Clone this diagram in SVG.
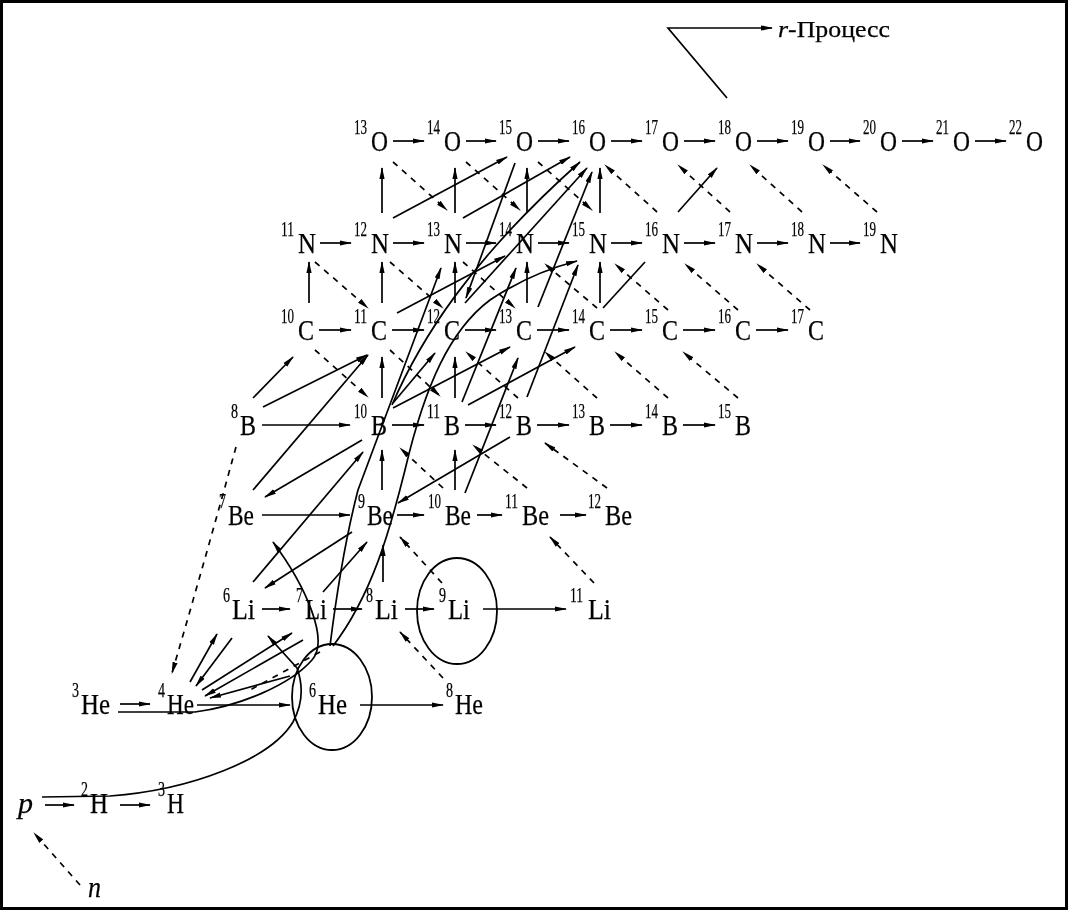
<svg xmlns="http://www.w3.org/2000/svg" width="1069" height="911" viewBox="0 0 1069 911">
<defs>
<marker id="ah" markerWidth="12" markerHeight="6" refX="11" refY="3" orient="auto" markerUnits="userSpaceOnUse"><path d="M0,0.4 L12,3 L0,5.6 z" fill="#000"/></marker>
<style>
text{font-family:"Liberation Serif","Times New Roman",serif;fill:#000;stroke:#000;stroke-width:0.25}
.m{font-size:29px}
.s{font-size:20px}
.i{font-style:italic}
.c line,.c path,.c polyline{stroke:#000;stroke-width:1.7;fill:none}
.c .a{marker-end:url(#ah)}
.c .d{stroke-dasharray:6 6}
.ell{fill:none;stroke:#000;stroke-width:1.8}
</style>
</defs>
<rect x="0" y="0" width="1069" height="911" fill="#fff"/>
<rect x="1.5" y="1.5" width="1065" height="907" fill="none" stroke="#000" stroke-width="3"/>

<g id="ellipses">
<ellipse class="ell" cx="332" cy="697" rx="40" ry="53"/>
<ellipse class="ell" cx="457" cy="611" rx="40" ry="53"/>
</g>

<g id="connectors" class="c">
<polyline class="a" points="727,98 668,28 772,28"/>
<line class="a" x1="393" y1="141" x2="424" y2="141"/>
<line class="a" x1="466" y1="141" x2="496" y2="141"/>
<line class="a" x1="538" y1="141" x2="569" y2="141"/>
<line class="a" x1="611" y1="141" x2="642" y2="141"/>
<line class="a" x1="684" y1="141" x2="715" y2="141"/>
<line class="a" x1="757" y1="141" x2="788" y2="141"/>
<line class="a" x1="830" y1="141" x2="860" y2="141"/>
<line class="a" x1="902" y1="141" x2="933" y2="141"/>
<line class="a" x1="975" y1="141" x2="1006" y2="141"/>
<line class="a" x1="320" y1="243" x2="351" y2="243"/>
<line class="a" x1="393" y1="243" x2="424" y2="243"/>
<line class="a" x1="466" y1="243" x2="496" y2="243"/>
<line class="a" x1="538" y1="243" x2="569" y2="243"/>
<line class="a" x1="611" y1="243" x2="642" y2="243"/>
<line class="a" x1="684" y1="243" x2="715" y2="243"/>
<line class="a" x1="757" y1="243" x2="788" y2="243"/>
<line class="a" x1="830" y1="243" x2="860" y2="243"/>
<line class="a" x1="319" y1="330" x2="351" y2="330"/>
<line class="a" x1="392" y1="330" x2="424" y2="330"/>
<line class="a" x1="465" y1="330" x2="496" y2="330"/>
<line class="a" x1="537" y1="330" x2="569" y2="330"/>
<line class="a" x1="610" y1="330" x2="642" y2="330"/>
<line class="a" x1="683" y1="330" x2="715" y2="330"/>
<line class="a" x1="756" y1="330" x2="788" y2="330"/>
<line class="a" x1="262" y1="425" x2="350" y2="425"/>
<line class="a" x1="392" y1="425" x2="424" y2="425"/>
<line class="a" x1="465" y1="425" x2="496" y2="425"/>
<line class="a" x1="537" y1="425" x2="569" y2="425"/>
<line class="a" x1="610" y1="425" x2="642" y2="425"/>
<line class="a" x1="683" y1="425" x2="715" y2="425"/>
<line class="a" x1="262" y1="515" x2="350" y2="515"/>
<line class="a" x1="397" y1="515" x2="424" y2="515"/>
<line class="a" x1="477" y1="515" x2="502" y2="515"/>
<line class="a" x1="560" y1="515" x2="586" y2="515"/>
<line class="a" x1="262" y1="609" x2="290" y2="609"/>
<line class="a" x1="333" y1="609" x2="362" y2="609"/>
<line class="a" x1="405" y1="609" x2="434" y2="609"/>
<line class="a" x1="483" y1="609" x2="566" y2="609"/>
<line class="a" x1="120" y1="704" x2="150" y2="704"/>
<line class="a" x1="197" y1="705" x2="290" y2="705"/>
<line class="a" x1="360" y1="705" x2="443" y2="705"/>
<line class="a" x1="45" y1="805" x2="74" y2="805"/>
<line class="a" x1="120" y1="805" x2="150" y2="805"/>
<line class="a" x1="382" y1="213" x2="382" y2="168"/>
<line class="a" x1="455" y1="213" x2="455" y2="168"/>
<line class="a" x1="527" y1="213" x2="527" y2="168"/>
<line class="a" x1="600" y1="213" x2="600" y2="168"/>
<line class="a" x1="309" y1="303" x2="309" y2="262"/>
<line class="a" x1="382" y1="303" x2="382" y2="262"/>
<line class="a" x1="455" y1="303" x2="455" y2="262"/>
<line class="a" x1="527" y1="303" x2="527" y2="262"/>
<line class="a" x1="600" y1="303" x2="600" y2="262"/>
<line class="a" x1="382" y1="398" x2="382" y2="357"/>
<line class="a" x1="455" y1="398" x2="455" y2="357"/>
<line class="a" x1="382" y1="490" x2="382" y2="450"/>
<line class="a" x1="455" y1="490" x2="455" y2="450"/>
<line class="a" x1="383" y1="582" x2="383" y2="545"/>
<line class="a d" x1="393" y1="162" x2="447" y2="210"/>
<line class="a d" x1="466" y1="162" x2="520" y2="210"/>
<line class="a d" x1="538" y1="162" x2="592" y2="210"/>
<line class="a d" x1="657" y1="212" x2="605" y2="165"/>
<line class="a d" x1="730" y1="212" x2="678" y2="165"/>
<line class="a d" x1="802" y1="212" x2="750" y2="165"/>
<line class="a d" x1="877" y1="212" x2="823" y2="165"/>
<line class="a d" x1="315" y1="262" x2="368" y2="308"/>
<line class="a d" x1="390" y1="262" x2="443" y2="308"/>
<line class="a d" x1="463" y1="262" x2="515" y2="308"/>
<line class="a d" x1="597" y1="308" x2="545" y2="264"/>
<line class="a d" x1="668" y1="310" x2="615" y2="264"/>
<line class="a d" x1="738" y1="310" x2="685" y2="264"/>
<line class="a d" x1="810" y1="310" x2="757" y2="264"/>
<line class="a d" x1="315" y1="350" x2="368" y2="397"/>
<line class="a d" x1="390" y1="350" x2="440" y2="396"/>
<line class="a d" x1="518" y1="398" x2="466" y2="352"/>
<line class="a d" x1="597" y1="398" x2="545" y2="352"/>
<line class="a d" x1="668" y1="398" x2="615" y2="352"/>
<line class="a d" x1="738" y1="398" x2="683" y2="352"/>
<line class="a d" x1="443" y1="488" x2="400" y2="448"/>
<line class="a d" x1="527" y1="488" x2="473" y2="445"/>
<line class="a d" x1="607" y1="488" x2="545" y2="443"/>
<line class="a d" x1="442" y1="583" x2="400" y2="537"/>
<line class="a d" x1="594" y1="583" x2="550" y2="537"/>
<line class="a d" x1="443" y1="678" x2="400" y2="632"/>
<line class="a d" x1="80" y1="885" x2="34" y2="833"/>
<path class="a d" d="M236,447 Q205,560 172,673"/>
<line class="d" x1="320" y1="652" x2="250" y2="690"/>
<line class="a" x1="393" y1="218" x2="507" y2="157"/>
<line class="a" x1="463" y1="218" x2="570" y2="157"/>
<path class="a" d="M392,405 C420,340 470,260 580,162"/>
<line class="a" x1="465" y1="303" x2="587" y2="168"/>
<line class="a" x1="538" y1="307" x2="592" y2="172"/>
<line class="a" x1="515" y1="163" x2="466" y2="298"/>
<line class="a" x1="397" y1="313" x2="505" y2="256"/>
<line class="a" x1="462" y1="402" x2="516" y2="268"/>
<line class="a" x1="527" y1="397" x2="578" y2="265"/>
<line class="a" x1="393" y1="408" x2="510" y2="347"/>
<line class="a" x1="468" y1="405" x2="575" y2="347"/>
<line class="a" x1="393" y1="403" x2="435" y2="353"/>
<line class="a" x1="253" y1="398" x2="293" y2="357"/>
<line class="a" x1="263" y1="407" x2="367" y2="355"/>
<line class="a" x1="253" y1="490" x2="368" y2="355"/>
<line class="a" x1="362" y1="440" x2="265" y2="497"/>
<line class="a" x1="253" y1="582" x2="363" y2="452"/>
<line class="a" x1="510" y1="437" x2="398" y2="503"/>
<line class="a" x1="465" y1="493" x2="518" y2="358"/>
<line class="a" x1="323" y1="592" x2="367" y2="542"/>
<line class="a" x1="352" y1="532" x2="265" y2="588"/>
<line x1="603" y1="308" x2="645" y2="262"/>
<line class="a" x1="678" y1="212" x2="717" y2="168"/>
<path class="a" d="M330,646 C337,590 345,540 358,490 L441,268"/>
<path class="a" d="M333,646 C372,595 390,530 405,470 C425,385 450,330 490,300 C520,280 550,268 577,261"/>
<path class="a" d="M42,797 L110,796 C190,790 270,760 293,722 C305,700 302,682 297,668 L268,636"/>
<path class="a" d="M118,712 L195,712 C240,706 290,685 312,660 C330,640 305,585 273,542"/>
<line class="a" x1="190" y1="682" x2="217" y2="634"/>
<line class="a" x1="232" y1="638" x2="196" y2="686"/>
<line class="a" x1="202" y1="690" x2="292" y2="633"/>
<line class="a" x1="303" y1="640" x2="205" y2="696"/>
<line class="a" x1="290" y1="676" x2="210" y2="698"/>
</g>

<g id="nodes" opacity="0.999">
<g id="r-process"><text x="778" y="37" font-size="23" textLength="112" lengthAdjust="spacingAndGlyphs"><tspan class="i">r</tspan>-Процесс</text></g>
<g id="O13" transform="translate(371,151)"><text><tspan class="s" x="-17" y="-17" textLength="13" lengthAdjust="spacingAndGlyphs">13</tspan><tspan class="m" x="0" y="0" textLength="17" lengthAdjust="spacingAndGlyphs">O</tspan></text></g>
<g id="O14" transform="translate(444,151)"><text><tspan class="s" x="-17" y="-17" textLength="13" lengthAdjust="spacingAndGlyphs">14</tspan><tspan class="m" x="0" y="0" textLength="17" lengthAdjust="spacingAndGlyphs">O</tspan></text></g>
<g id="O15" transform="translate(516,151)"><text><tspan class="s" x="-17" y="-17" textLength="13" lengthAdjust="spacingAndGlyphs">15</tspan><tspan class="m" x="0" y="0" textLength="17" lengthAdjust="spacingAndGlyphs">O</tspan></text></g>
<g id="O16" transform="translate(589,151)"><text><tspan class="s" x="-17" y="-17" textLength="13" lengthAdjust="spacingAndGlyphs">16</tspan><tspan class="m" x="0" y="0" textLength="17" lengthAdjust="spacingAndGlyphs">O</tspan></text></g>
<g id="O17" transform="translate(662,151)"><text><tspan class="s" x="-17" y="-17" textLength="13" lengthAdjust="spacingAndGlyphs">17</tspan><tspan class="m" x="0" y="0" textLength="17" lengthAdjust="spacingAndGlyphs">O</tspan></text></g>
<g id="O18" transform="translate(735,151)"><text><tspan class="s" x="-17" y="-17" textLength="13" lengthAdjust="spacingAndGlyphs">18</tspan><tspan class="m" x="0" y="0" textLength="17" lengthAdjust="spacingAndGlyphs">O</tspan></text></g>
<g id="O19" transform="translate(808,151)"><text><tspan class="s" x="-17" y="-17" textLength="13" lengthAdjust="spacingAndGlyphs">19</tspan><tspan class="m" x="0" y="0" textLength="17" lengthAdjust="spacingAndGlyphs">O</tspan></text></g>
<g id="O20" transform="translate(880,151)"><text><tspan class="s" x="-17" y="-17" textLength="13" lengthAdjust="spacingAndGlyphs">20</tspan><tspan class="m" x="0" y="0" textLength="17" lengthAdjust="spacingAndGlyphs">O</tspan></text></g>
<g id="O21" transform="translate(953,151)"><text><tspan class="s" x="-17" y="-17" textLength="13" lengthAdjust="spacingAndGlyphs">21</tspan><tspan class="m" x="0" y="0" textLength="17" lengthAdjust="spacingAndGlyphs">O</tspan></text></g>
<g id="O22" transform="translate(1026,151)"><text><tspan class="s" x="-17" y="-17" textLength="13" lengthAdjust="spacingAndGlyphs">22</tspan><tspan class="m" x="0" y="0" textLength="17" lengthAdjust="spacingAndGlyphs">O</tspan></text></g>
<g id="N11" transform="translate(298,253)"><text><tspan class="s" x="-17" y="-17" textLength="13" lengthAdjust="spacingAndGlyphs">11</tspan><tspan class="m" x="0" y="0" textLength="18" lengthAdjust="spacingAndGlyphs">N</tspan></text></g>
<g id="N12" transform="translate(371,253)"><text><tspan class="s" x="-17" y="-17" textLength="13" lengthAdjust="spacingAndGlyphs">12</tspan><tspan class="m" x="0" y="0" textLength="18" lengthAdjust="spacingAndGlyphs">N</tspan></text></g>
<g id="N13" transform="translate(444,253)"><text><tspan class="s" x="-17" y="-17" textLength="13" lengthAdjust="spacingAndGlyphs">13</tspan><tspan class="m" x="0" y="0" textLength="18" lengthAdjust="spacingAndGlyphs">N</tspan></text></g>
<g id="N14" transform="translate(516,253)"><text><tspan class="s" x="-17" y="-17" textLength="13" lengthAdjust="spacingAndGlyphs">14</tspan><tspan class="m" x="0" y="0" textLength="18" lengthAdjust="spacingAndGlyphs">N</tspan></text></g>
<g id="N15" transform="translate(589,253)"><text><tspan class="s" x="-17" y="-17" textLength="13" lengthAdjust="spacingAndGlyphs">15</tspan><tspan class="m" x="0" y="0" textLength="18" lengthAdjust="spacingAndGlyphs">N</tspan></text></g>
<g id="N16" transform="translate(662,253)"><text><tspan class="s" x="-17" y="-17" textLength="13" lengthAdjust="spacingAndGlyphs">16</tspan><tspan class="m" x="0" y="0" textLength="18" lengthAdjust="spacingAndGlyphs">N</tspan></text></g>
<g id="N17" transform="translate(735,253)"><text><tspan class="s" x="-17" y="-17" textLength="13" lengthAdjust="spacingAndGlyphs">17</tspan><tspan class="m" x="0" y="0" textLength="18" lengthAdjust="spacingAndGlyphs">N</tspan></text></g>
<g id="N18" transform="translate(808,253)"><text><tspan class="s" x="-17" y="-17" textLength="13" lengthAdjust="spacingAndGlyphs">18</tspan><tspan class="m" x="0" y="0" textLength="18" lengthAdjust="spacingAndGlyphs">N</tspan></text></g>
<g id="N19" transform="translate(880,253)"><text><tspan class="s" x="-17" y="-17" textLength="13" lengthAdjust="spacingAndGlyphs">19</tspan><tspan class="m" x="0" y="0" textLength="18" lengthAdjust="spacingAndGlyphs">N</tspan></text></g>
<g id="C10" transform="translate(298,340)"><text><tspan class="s" x="-17" y="-17" textLength="13" lengthAdjust="spacingAndGlyphs">10</tspan><tspan class="m" x="0" y="0" textLength="16" lengthAdjust="spacingAndGlyphs">C</tspan></text></g>
<g id="C11" transform="translate(371,340)"><text><tspan class="s" x="-17" y="-17" textLength="13" lengthAdjust="spacingAndGlyphs">11</tspan><tspan class="m" x="0" y="0" textLength="16" lengthAdjust="spacingAndGlyphs">C</tspan></text></g>
<g id="C12" transform="translate(444,340)"><text><tspan class="s" x="-17" y="-17" textLength="13" lengthAdjust="spacingAndGlyphs">12</tspan><tspan class="m" x="0" y="0" textLength="16" lengthAdjust="spacingAndGlyphs">C</tspan></text></g>
<g id="C13" transform="translate(516,340)"><text><tspan class="s" x="-17" y="-17" textLength="13" lengthAdjust="spacingAndGlyphs">13</tspan><tspan class="m" x="0" y="0" textLength="16" lengthAdjust="spacingAndGlyphs">C</tspan></text></g>
<g id="C14" transform="translate(589,340)"><text><tspan class="s" x="-17" y="-17" textLength="13" lengthAdjust="spacingAndGlyphs">14</tspan><tspan class="m" x="0" y="0" textLength="16" lengthAdjust="spacingAndGlyphs">C</tspan></text></g>
<g id="C15" transform="translate(662,340)"><text><tspan class="s" x="-17" y="-17" textLength="13" lengthAdjust="spacingAndGlyphs">15</tspan><tspan class="m" x="0" y="0" textLength="16" lengthAdjust="spacingAndGlyphs">C</tspan></text></g>
<g id="C16" transform="translate(735,340)"><text><tspan class="s" x="-17" y="-17" textLength="13" lengthAdjust="spacingAndGlyphs">16</tspan><tspan class="m" x="0" y="0" textLength="16" lengthAdjust="spacingAndGlyphs">C</tspan></text></g>
<g id="C17" transform="translate(808,340)"><text><tspan class="s" x="-17" y="-17" textLength="13" lengthAdjust="spacingAndGlyphs">17</tspan><tspan class="m" x="0" y="0" textLength="16" lengthAdjust="spacingAndGlyphs">C</tspan></text></g>
<g id="B8" transform="translate(240,435)"><text><tspan class="s" x="-9" y="-17" textLength="7" lengthAdjust="spacingAndGlyphs">8</tspan><tspan class="m" x="0" y="0" textLength="16" lengthAdjust="spacingAndGlyphs">B</tspan></text></g>
<g id="B10" transform="translate(371,435)"><text><tspan class="s" x="-17" y="-17" textLength="13" lengthAdjust="spacingAndGlyphs">10</tspan><tspan class="m" x="0" y="0" textLength="16" lengthAdjust="spacingAndGlyphs">B</tspan></text></g>
<g id="B11" transform="translate(444,435)"><text><tspan class="s" x="-17" y="-17" textLength="13" lengthAdjust="spacingAndGlyphs">11</tspan><tspan class="m" x="0" y="0" textLength="16" lengthAdjust="spacingAndGlyphs">B</tspan></text></g>
<g id="B12" transform="translate(516,435)"><text><tspan class="s" x="-17" y="-17" textLength="13" lengthAdjust="spacingAndGlyphs">12</tspan><tspan class="m" x="0" y="0" textLength="16" lengthAdjust="spacingAndGlyphs">B</tspan></text></g>
<g id="B13" transform="translate(589,435)"><text><tspan class="s" x="-17" y="-17" textLength="13" lengthAdjust="spacingAndGlyphs">13</tspan><tspan class="m" x="0" y="0" textLength="16" lengthAdjust="spacingAndGlyphs">B</tspan></text></g>
<g id="B14" transform="translate(662,435)"><text><tspan class="s" x="-17" y="-17" textLength="13" lengthAdjust="spacingAndGlyphs">14</tspan><tspan class="m" x="0" y="0" textLength="16" lengthAdjust="spacingAndGlyphs">B</tspan></text></g>
<g id="B15" transform="translate(735,435)"><text><tspan class="s" x="-17" y="-17" textLength="13" lengthAdjust="spacingAndGlyphs">15</tspan><tspan class="m" x="0" y="0" textLength="16" lengthAdjust="spacingAndGlyphs">B</tspan></text></g>
<g id="Be7" transform="translate(228,525)"><text><tspan class="s" x="-9" y="-17" textLength="7" lengthAdjust="spacingAndGlyphs">7</tspan><tspan class="m" x="0" y="0" textLength="26" lengthAdjust="spacingAndGlyphs">Be</tspan></text></g>
<g id="Be9" transform="translate(367,525)"><text><tspan class="s" x="-9" y="-17" textLength="7" lengthAdjust="spacingAndGlyphs">9</tspan><tspan class="m" x="0" y="0" textLength="26" lengthAdjust="spacingAndGlyphs">Be</tspan></text></g>
<g id="Be10" transform="translate(445,525)"><text><tspan class="s" x="-17" y="-17" textLength="13" lengthAdjust="spacingAndGlyphs">10</tspan><tspan class="m" x="0" y="0" textLength="26" lengthAdjust="spacingAndGlyphs">Be</tspan></text></g>
<g id="Be11" transform="translate(522,525)"><text><tspan class="s" x="-17" y="-17" textLength="13" lengthAdjust="spacingAndGlyphs">11</tspan><tspan class="m" x="0" y="0" textLength="27" lengthAdjust="spacingAndGlyphs">Be</tspan></text></g>
<g id="Be12" transform="translate(605,525)"><text><tspan class="s" x="-17" y="-17" textLength="13" lengthAdjust="spacingAndGlyphs">12</tspan><tspan class="m" x="0" y="0" textLength="27" lengthAdjust="spacingAndGlyphs">Be</tspan></text></g>
<g id="Li6" transform="translate(232,619)"><text><tspan class="s" x="-9" y="-17" textLength="7" lengthAdjust="spacingAndGlyphs">6</tspan><tspan class="m" x="0" y="0" textLength="23" lengthAdjust="spacingAndGlyphs">Li</tspan></text></g>
<g id="Li7" transform="translate(305,619)"><text><tspan class="s" x="-9" y="-17" textLength="7" lengthAdjust="spacingAndGlyphs">7</tspan><tspan class="m" x="0" y="0" textLength="22" lengthAdjust="spacingAndGlyphs">Li</tspan></text></g>
<g id="Li8" transform="translate(375,619)"><text><tspan class="s" x="-9" y="-17" textLength="7" lengthAdjust="spacingAndGlyphs">8</tspan><tspan class="m" x="0" y="0" textLength="23" lengthAdjust="spacingAndGlyphs">Li</tspan></text></g>
<g id="Li9" transform="translate(448,619)"><text><tspan class="s" x="-9" y="-17" textLength="7" lengthAdjust="spacingAndGlyphs">9</tspan><tspan class="m" x="0" y="0" textLength="22" lengthAdjust="spacingAndGlyphs">Li</tspan></text></g>
<g id="Li11" transform="translate(588,619)"><text><tspan class="s" x="-18" y="-17" textLength="13" lengthAdjust="spacingAndGlyphs">11</tspan><tspan class="m" x="0" y="0" textLength="23" lengthAdjust="spacingAndGlyphs">Li</tspan></text></g>
<g id="He3" transform="translate(81,714)"><text><tspan class="s" x="-9" y="-17" textLength="7" lengthAdjust="spacingAndGlyphs">3</tspan><tspan class="m" x="0" y="0" textLength="29" lengthAdjust="spacingAndGlyphs">He</tspan></text></g>
<g id="He4" transform="translate(167,714)"><text><tspan class="s" x="-9" y="-17" textLength="7" lengthAdjust="spacingAndGlyphs">4</tspan><tspan class="m" x="0" y="0" textLength="27" lengthAdjust="spacingAndGlyphs">He</tspan></text></g>
<g id="He6" transform="translate(318,714)"><text><tspan class="s" x="-9" y="-17" textLength="7" lengthAdjust="spacingAndGlyphs">6</tspan><tspan class="m" x="0" y="0" textLength="29" lengthAdjust="spacingAndGlyphs">He</tspan></text></g>
<g id="He8" transform="translate(455,714)"><text><tspan class="s" x="-9" y="-17" textLength="7" lengthAdjust="spacingAndGlyphs">8</tspan><tspan class="m" x="0" y="0" textLength="28" lengthAdjust="spacingAndGlyphs">He</tspan></text></g>
<g id="p" transform="translate(18,813)"><text class="m i" textLength="15" lengthAdjust="spacingAndGlyphs">p</text></g>
<g id="H2" transform="translate(90,813)"><text><tspan class="s" x="-9" y="-17" textLength="7" lengthAdjust="spacingAndGlyphs">2</tspan><tspan class="m" x="0" y="0" textLength="18" lengthAdjust="spacingAndGlyphs">H</tspan></text></g>
<g id="H3" transform="translate(167,813)"><text><tspan class="s" x="-9" y="-17" textLength="7" lengthAdjust="spacingAndGlyphs">3</tspan><tspan class="m" x="0" y="0" textLength="17" lengthAdjust="spacingAndGlyphs">H</tspan></text></g>
<g id="n" transform="translate(88,897)"><text class="m i" textLength="13" lengthAdjust="spacingAndGlyphs">n</text></g>
</g>
</svg>
